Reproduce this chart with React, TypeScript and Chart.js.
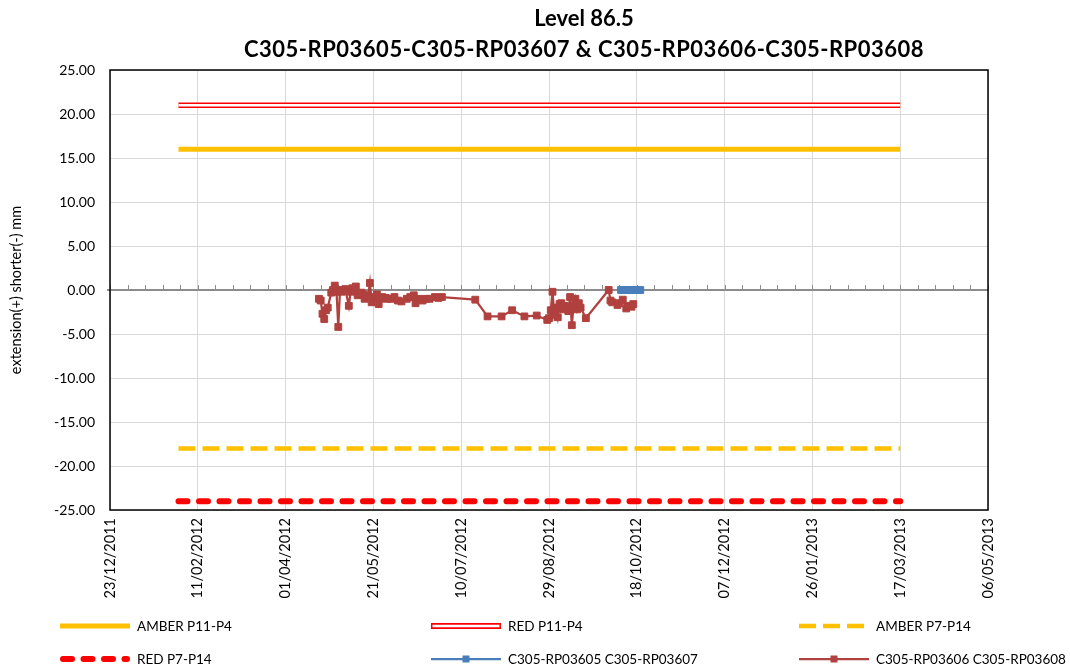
import React, { useEffect, useRef } from "react";
import { Chart, registerables } from "chart.js";

Chart.register(...registerables);

// ---------- data ----------
const AXIS_START = "2011-12-23";
const AXIS_END = "2013-05-06";
const MAJOR_STEP_DAYS = 50;
const MINOR_STEP_DAYS = 10;

const TITLE_LINES = ["Level 86.5", "C305-RP03605-C305-RP03607 & C305-RP03606-C305-RP03608"];
const Y_TITLE = "extension(+) shorter(-) mm";
const Y_MIN = -25;
const Y_MAX = 25;
const Y_STEP = 5;

const limitDates = ["2012-01-31", "2013-03-17"];
const amberP11P4 = [16, 16];
const redP11P4 = [21, 21];
const amberP7P14 = [-18, -18];
const redP7P14 = [-24, -24];

const seriesADates = ["2012-10-09", "2012-10-11", "2012-10-13", "2012-10-15", "2012-10-17", "2012-10-19", "2012-10-20"];
const seriesAValues = [0.0, 0.0, 0.0, 0.0, 0.0, 0.0, 0.0];

const seriesBDates = [
  "2012-04-20", "2012-04-21", "2012-04-22", "2012-04-23", "2012-04-24", "2012-04-25", "2012-04-27", "2012-04-28",
  "2012-04-29", "2012-04-30", "2012-05-01", "2012-05-02", "2012-05-03", "2012-05-05", "2012-05-07", "2012-05-08",
  "2012-05-09", "2012-05-10", "2012-05-11", "2012-05-12", "2012-05-14", "2012-05-15", "2012-05-16", "2012-05-18",
  "2012-05-19", "2012-05-20", "2012-05-22", "2012-05-23", "2012-05-24", "2012-05-25", "2012-05-26", "2012-05-28",
  "2012-05-29", "2012-05-31", "2012-06-02", "2012-06-04", "2012-06-06", "2012-06-09", "2012-06-11", "2012-06-13",
  "2012-06-14", "2012-06-16", "2012-06-18", "2012-06-20", "2012-06-22", "2012-06-25", "2012-06-27", "2012-06-29",
  "2012-07-18", "2012-07-25", "2012-08-02", "2012-08-08", "2012-08-15", "2012-08-22", "2012-08-28", "2012-08-29",
  "2012-08-30", "2012-08-31", "2012-09-01", "2012-09-02", "2012-09-03", "2012-09-04", "2012-09-05", "2012-09-06",
  "2012-09-07", "2012-09-09", "2012-09-10", "2012-09-11", "2012-09-12", "2012-09-13", "2012-09-14", "2012-09-15",
  "2012-09-16", "2012-09-19", "2012-10-02", "2012-10-03", "2012-10-04", "2012-10-07", "2012-10-08", "2012-10-10",
  "2012-10-12", "2012-10-13", "2012-10-15", "2012-10-16",
];
const seriesBValues = [
  -1.0, -1.2, -2.7, -3.3, -2.3, -2.0, -0.3, 0.0,
  0.5, -0.2, -4.2, 0.0, -0.2, 0.1, -1.8, -0.2,
  0.2, 0.0, 0.4, -0.6, -0.3, -0.5, -1.0, -0.6,
  0.8, -1.4, -0.8, -0.5, -1.6, -1.0, -0.8, -0.9,
  -1.0, -1.0, -0.8, -1.2, -1.3, -1.0, -0.8, -0.6,
  -1.5, -1.0, -1.2, -1.0, -1.0, -0.8, -0.9, -0.8,
  -1.1, -3.0, -3.0, -2.3, -3.0, -2.9, -3.4, -3.2,
  -2.3, -0.2, -2.8, -2.0, -3.1, -1.6, -1.5, -2.2,
  -1.8, -2.4, -0.8, -4.0, -1.8, -1.0, -2.2, -1.5,
  -2.0, -3.2, 0.0, -1.2, -1.4, -1.7, -1.5, -1.1,
  -2.1, -1.8, -1.9, -1.6,
];

const LEGEND_LABELS = [
  "AMBER P11-P4", "RED P11-P4", "AMBER P7-P14",
  "RED P7-P14", "C305-RP03605 C305-RP03607", "C305-RP03606 C305-RP03608",
];

// ---------- helpers ----------
const DAY_MS = 86400000;
const startMs = Date.parse(AXIS_START);
const toDay = (s: string) => Math.round((Date.parse(s) - startMs) / DAY_MS);
const AXIS_DAYS = toDay(AXIS_END);
const fmtDate = (day: number) => {
  const d = new Date(startMs + day * DAY_MS);
  const dd = String(d.getUTCDate()).padStart(2, "0");
  const mm = String(d.getUTCMonth() + 1).padStart(2, "0");
  return `${dd}/${mm}/${d.getUTCFullYear()}`;
};
const pts = (dates: string[], vals: number[]) => dates.map((d, i) => ({ x: toDay(d), y: vals[i] }));

const FONT = 'Lato, "Noto Sans", sans-serif';
const AMBER = "#FFC000";
const RED = "#FF0000";
const BLUE = "#4A7EBB";
const BROWN = "#B0413E";

// ---------- plugins ----------
const framePlugin = {
  id: "frameAndZero",
  beforeDatasetsDraw(chart: any) {
    const { ctx, chartArea: a, scales } = chart;
    const x = scales.x;
    const y = scales.y;
    const y0 = y.getPixelForValue(0);
    ctx.save();
    ctx.strokeStyle = "#8C8C8C";
    ctx.lineWidth = 1;
    for (let d = 0; d <= AXIS_DAYS; d += MINOR_STEP_DAYS) {
      const px = Math.round(x.getPixelForValue(d)) + 0.5;
      ctx.beginPath();
      ctx.moveTo(px, y0);
      ctx.lineTo(px, y0 - 5);
      ctx.stroke();
    }
    ctx.lineWidth = 2;
    ctx.beginPath();
    ctx.moveTo(a.left - 3, y0);
    ctx.lineTo(a.right, y0);
    ctx.stroke();
    ctx.strokeStyle = "#000";
    ctx.lineWidth = 1.5;
    ctx.strokeRect(a.left, a.top, a.right - a.left, a.bottom - a.top);
    ctx.restore();
  },
  afterDraw(chart: any) {
    const { ctx } = chart;
    ctx.save();
    ctx.fillStyle = "#000";
    ctx.textAlign = "center";
    ctx.textBaseline = "middle";
    ctx.font = `bold 22px ${FONT}`;
    ctx.fillText(TITLE_LINES[0], 584, 19);
    (ctx as any).letterSpacing = "0.5px";
    ctx.fillText(TITLE_LINES[1], 584, 50);
    (ctx as any).letterSpacing = "0px";

    // legend in a 3x2 grid
    const cols = [60, 431, 799];
    const rows = [626, 659];
    const sampleW = 70;
    const sets = chart.data.datasets.filter((d: any) => d.inLegend);
    ctx.font = `13.5px ${FONT}`;
    ctx.textAlign = "left";
    sets.forEach((ds: any, i: number) => {
      const cx = cols[i % 3];
      const cy = rows[Math.floor(i / 3)];
      ctx.save();
      ctx.lineCap = ds.borderCapStyle || "butt";
      ctx.setLineDash(ds.borderDash || []);
      ctx.strokeStyle = ds.borderColor;
      ctx.lineWidth = ds.legendWidth || ds.borderWidth;
      ctx.beginPath();
      const off = ds.borderCapStyle === "round" ? ds.borderWidth / 2 : 0;
      ctx.moveTo(cx + off, cy);
      ctx.lineTo(cx + sampleW - off, cy);
      ctx.stroke();
      if (ds.doubleLine) {
        ctx.setLineDash([]);
        ctx.strokeStyle = "#fff";
        ctx.lineWidth = 2.5;
        ctx.beginPath();
        ctx.moveTo(cx + 1.5, cy);
        ctx.lineTo(cx + sampleW - 1.5, cy);
        ctx.stroke();
      }
      if (ds.pointRadius > 0) {
        ctx.setLineDash([]);
        ctx.fillStyle = ds.pointBackgroundColor;
        ctx.fillRect(cx + sampleW / 2 - 3.5, cy - 3.5, 7, 7);
      }
      ctx.restore();
      ctx.fillStyle = "#000";
      ctx.textBaseline = "middle";
      ctx.fillText(ds.label, cx + sampleW + 7, cy + 1);
    });
    ctx.restore();
  },
};

export default function App() {
  const ref = useRef<HTMLCanvasElement | null>(null);

  useEffect(() => {
    document.body.style.margin = "0";
    if (!ref.current) return;
    const limitPts = (vals: number[]) => pts(limitDates, vals);
    const chart = new Chart(ref.current, {
      type: "line",
      data: {
        datasets: [
          {
            label: LEGEND_LABELS[0], inLegend: true,
            data: limitPts(amberP11P4), borderColor: AMBER, borderWidth: 5, pointRadius: 0, order: 9,
          },
          {
            label: LEGEND_LABELS[1], inLegend: true, doubleLine: true, legendWidth: 6,
            data: limitPts(redP11P4), borderColor: RED, borderWidth: 5.5, pointRadius: 0, order: 8,
          },
          {
            label: "RED P11-P4 inner",
            data: limitPts(redP11P4), borderColor: "#FFFFFF", borderWidth: 2.5, pointRadius: 0, order: 7,
          },
          {
            label: LEGEND_LABELS[2], inLegend: true,
            data: limitPts(amberP7P14), borderColor: AMBER, borderWidth: 4.5, borderDash: [17, 7], pointRadius: 0, order: 6,
          },
          {
            label: LEGEND_LABELS[3], inLegend: true, borderCapStyle: "round",
            data: limitPts(redP7P14), borderColor: RED, borderWidth: 6, borderDash: [9, 11.5], pointRadius: 0, order: 5,
          },
          {
            label: LEGEND_LABELS[4], inLegend: true,
            data: pts(seriesADates, seriesAValues), borderColor: BLUE, borderWidth: 2.25,
            pointStyle: "rect", pointRadius: 4.8, pointBackgroundColor: BLUE, pointBorderColor: BLUE, pointBorderWidth: 1, order: 4,
          },
          {
            label: LEGEND_LABELS[5], inLegend: true,
            data: pts(seriesBDates, seriesBValues), borderColor: BROWN, borderWidth: 2.25,
            pointStyle: "rect", pointRadius: 4.8, pointBackgroundColor: BROWN, pointBorderColor: BROWN, pointBorderWidth: 1, order: 3,
          },
        ] as any,
      },
      options: {
        animation: false,
        responsive: false,
        devicePixelRatio: 1,
        events: [],
        layout: { padding: { left: 0, right: 82, top: 70, bottom: 60 } },
        plugins: { legend: { display: false }, title: { display: false }, tooltip: { enabled: false } },
        elements: { line: { tension: 0 } },
        scales: {
          x: {
            type: "linear",
            min: 0,
            max: AXIS_DAYS,
            afterFit: (s: any) => { s.height = 100; },
            grid: { color: "#D9D9D9", lineWidth: 1, drawTicks: false },
            border: { display: false },
            ticks: {
              stepSize: MAJOR_STEP_DAYS,
              autoSkip: false,
              minRotation: 90,
              maxRotation: 90,
              padding: 8,
              color: "#000",
              font: { family: FONT, size: 14.5 },
              callback: (v: any) => fmtDate(Number(v)),
            },
          },
          y: {
            min: Y_MIN,
            max: Y_MAX,
            afterFit: (s: any) => { s.width = 110; },
            grid: { color: "#D9D9D9", lineWidth: 1, drawTicks: false },
            border: { display: false },
            title: {
              display: true,
              text: Y_TITLE,
              color: "#000",
              font: { family: FONT, size: 14.5 },
              padding: { top: 8, bottom: 0 },
            },
            ticks: {
              stepSize: Y_STEP,
              padding: 15,
              color: "#000",
              font: { family: FONT, size: 14 },
              callback: (v: any) => Number(v).toFixed(2),
            },
          },
        },
      },
      plugins: [framePlugin],
    });
    return () => chart.destroy();
  }, []);

  return <canvas ref={ref} width={1070} height={670} style={{ display: "block" }} />;
}
